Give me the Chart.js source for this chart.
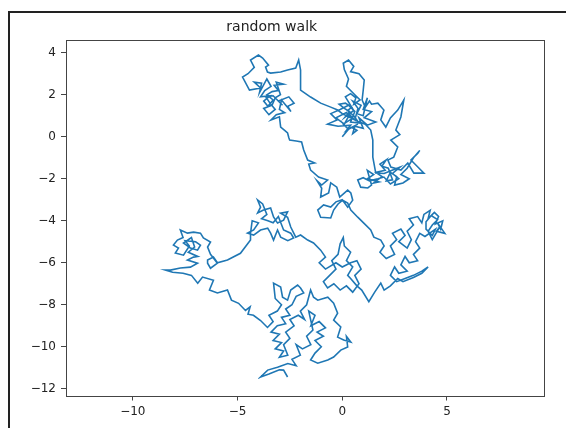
<!DOCTYPE html>
<html>
<head>
<meta charset="utf-8">
<script src="https://cdn.jsdelivr.net/npm/chart.js@4.4.0/dist/chart.umd.min.js"></script>
<style>
  body { margin: 0; background: #fff; overflow: hidden; }
  #wrap { position: relative; width: 566px; height: 428px; }
</style>
</head>
<body>
<div id="wrap"><canvas id="walk"></canvas></div>
<script>
// walk, piece by piece, in drawing order
const walkB = [[0,0],[0.3,0.35],[0.05,0.6],[0.45,0.85],[0.2,1.15],[-0.3,0.9],[0.1,0.6],[0.35,1.05],[0.6,0.8],[0.75,1.35],[0.5,1.7],[0.9,1.5],[0.7,1.1],[1.0,1.0],[1.2,1.85],[1.0,1.3],[1.4,1.2],[1.05,0.9],[1.6,0.7],[1.2,0.55],[0.8,0.9],[1.0,0.4],[0.6,0.5],[0.5,0.15],[0.7,0.3],[0.45,0.45],[0.75,0.6],[0.2,0.3],[0.4,0.55],[-0.2,0.5],[-0.7,0.6],[-0.25,0.8],[-0.55,1.1],[-0.1,1.3],[0.3,1.5],[0.6,1.2],[0.4,0.7],[0.8,0.65],[0.55,1.0],[0.25,1.25],[0.45,1.4],[0.15,1.6],[-0.15,1.55],[0.1,1.35],[0.35,1.2],[0.15,0.95],[0.55,1.25],[0.15,1.9],[0.4,2.05],[0.65,1.85],[0.55,1.55],[0.85,1.75],[0.6,2.0],[0.2,2.4],[0.3,2.75],[0.1,3.2],[0.05,3.5],[0.3,3.65],[0.55,3.35],[0.4,3.1],[0.8,3.0],[1.05,2.7],[1.0,2.2],[0.95,1.75],[1.1,1.4],[1.3,1.7],[1.4,1.55],[1.7,1.6]];
const walkC = [[1.99,1.27],[1.84,0.8],[2.08,0.46],[2.3,0.9],[2.65,1.27],[2.94,1.75],[2.8,0.94],[2.56,0.32],[2.75,0.1],[2.32,-0.16],[2.65,-0.49],[2.46,-0.97],[2.18,-1.11],[2.32,-1.44],[2.8,-1.59],[3.13,-1.25],[3.42,-1.73],[3.9,-1.73],[3.61,-1.44],[3.28,-1.11],[3.61,-0.78],[3.7,-0.65]];
const walkD = [[3.4,-1.0],[3.1,-1.5],[2.8,-1.8],[3.2,-2.0],[2.9,-2.2],[2.5,-2.3],[2.6,-1.9],[2.3,-1.7],[2.1,-2.1],[2.4,-2.05],[2.2,-1.5],[1.9,-1.4],[2.1,-1.1],[1.8,-1.3],[2.05,-1.6],[1.6,-1.7],[1.9,-1.9],[1.5,-2.2],[1.75,-2.15],[1.2,-2.0],[1.5,-1.8],[1.2,-1.6],[1.4,-2.3],[1.22,-2.44],[0.88,-2.4],[0.74,-2.06],[1.0,-1.95],[1.3,-2.1],[1.7,-2.0],[1.99,-1.92],[2.3,-2.25],[2.7,-2.0],[2.4,-1.75],[2.75,-1.45],[2.5,-1.55],[2.0,-1.75],[1.6,-1.73],[1.46,-0.97],[1.46,-0.16],[1.36,0.32],[1.1,0.6],[0.7,0.75],[0.3,0.95],[0.0,1.1],[-0.22,1.27],[-0.55,1.41],[-1.03,1.6],[-1.51,1.89],[-1.99,2.22],[-1.99,2.7],[-1.99,3.18],[-2.08,3.65],[-2.22,3.27],[-2.61,3.18],[-2.94,3.08],[-3.42,3.03]];
const walkA = [[-3.57,3.08],[-3.66,3.32],[-3.52,3.41],[-3.8,3.75],[-4.0,3.89],[-4.38,3.65],[-4.2,3.3],[-4.5,3.0],[-4.76,2.84],[-4.43,2.22],[-3.9,2.32],[-4.2,2.6],[-3.85,2.55],[-3.95,2.1],[-3.6,2.75],[-3.4,2.4],[-3.7,2.2],[-3.9,1.9],[-3.45,1.95],[-3.75,1.7],[-3.55,1.45],[-3.3,1.75],[-3.6,2.0],[-3.35,2.15],[-3.05,2.2],[-3.25,2.45],[-2.8,2.5],[-3.15,2.6],[-2.95,2.0],[-3.2,1.85],[-3.35,1.5],[-3.75,1.35],[-3.5,1.05],[-3.2,1.3],[-3.45,1.6],[-3.65,1.9],[-3.3,1.95],[-2.85,1.5],[-3.05,1.7],[-2.55,1.9],[-2.3,1.6],[-2.6,1.45],[-2.45,1.2],[-2.9,1.75],[-3.0,1.3],[-2.75,1.15],[-3.15,1.05],[-3.4,0.8],[-3.0,0.95],[-2.94,0.46],[-2.75,0.3],[-2.61,0.18],[-2.55,-0.05],[-2.51,-0.16],[-2.2,-0.2],[-1.94,-0.25],[-1.84,-0.63],[-1.65,-1.11],[-1.32,-1.25],[-1.6,-1.3],[-1.51,-1.59],[-1.13,-1.92]];
const walkE = [[-0.7,-2.06],[-0.98,-2.3],[-1.2,-2.1],[-0.98,-2.45],[-1.03,-2.87],[-0.65,-2.68],[-0.55,-2.2],[-0.26,-2.4],[-0.12,-2.87],[0.26,-2.54],[0.41,-2.68],[0.5,-3.02],[0.26,-3.35],[0.0,-3.0],[-0.3,-3.1],[-0.55,-3.35],[-0.89,-3.25],[-1.17,-3.49],[-1.03,-3.83],[-0.55,-3.87],[-0.41,-3.49],[-0.2,-3.2],[0.02,-3.02],[0.26,-3.16],[0.41,-3.49],[0.74,-3.83],[1.03,-4.11],[1.36,-4.44],[1.51,-4.78],[1.84,-4.92]];
const walkF = [[2.0,-5.2],[1.8,-5.5],[2.1,-5.8],[2.5,-5.6],[2.3,-5.2],[2.6,-4.9],[2.4,-4.6],[2.8,-4.4],[3.0,-4.7],[2.7,-5.0],[3.1,-5.3],[3.3,-4.9],[3.1,-4.5],[3.4,-4.2],[3.2,-3.9],[3.6,-3.8],[3.8,-4.1],[3.9,-3.7],[4.2,-3.5],[4.1,-3.9],[4.4,-3.6],[4.6,-3.8],[4.45,-4.15],[4.8,-4.0],[4.7,-4.4],[4.55,-4.1],[4.9,-4.6],[4.5,-4.5],[4.65,-4.3],[4.3,-4.9],[4.1,-4.5],[4.3,-4.2],[4.55,-3.95],[4.25,-3.75],[4.0,-4.05],[4.0,-4.4],[4.3,-4.7],[4.45,-4.4],[3.95,-4.75],[3.7,-4.6],[3.5,-5.0],[3.7,-5.3],[3.4,-5.6],[3.6,-5.9],[3.2,-6.0],[3.0,-5.7],[2.8,-6.1],[3.1,-6.4],[2.7,-6.5],[2.5,-6.2],[2.3,-6.6],[2.6,-6.9],[3.0,-6.75],[3.4,-6.6],[3.8,-6.4],[4.1,-6.2],[3.8,-6.5],[3.4,-6.7],[2.9,-6.9],[2.65,-6.75],[2.3,-7.1],[2.0,-7.3],[1.84,-6.97],[1.55,-7.4],[1.27,-7.85],[0.93,-7.3],[0.7,-7.1],[0.4,-6.75],[0.26,-6.6]];
const walkG = [[0.5,-6.2],[0.2,-5.9],[0.4,-5.5],[0.1,-5.2],[0.05,-4.8],[-0.1,-5.1],[-0.2,-5.6],[-0.5,-5.9],[-0.3,-6.3],[-0.6,-6.6],[-0.9,-6.9],[-0.7,-7.2],[-0.4,-7.0],[-0.1,-7.3],[0.2,-7.1],[0.5,-7.4],[0.8,-7.0],[0.6,-6.6],[0.9,-6.3],[0.7,-5.9],[0.4,-6.0],[0.0,-6.2],[-0.3,-6.0],[-0.8,-6.3],[-1.1,-6.0],[-0.8,-5.73],[-1.03,-5.4],[-1.37,-5.06],[-1.65,-4.92],[-1.99,-4.68],[-2.22,-4.78],[-2.46,-4.3],[-2.61,-3.83],[-2.94,-3.64]];
const walkI = [[-2.61,-3.58],[-2.8,-3.97],[-3.09,-4.11],[-3.28,-3.82],[-3.42,-3.39],[-3.76,-3.49],[-4.04,-3.63],[-3.9,-3.35],[-4.04,-3.01],[-3.8,-3.2],[-3.6,-3.7],[-3.85,-3.9],[-3.55,-4.0],[-3.3,-4.1],[-3.05,-3.8],[-2.8,-4.44],[-2.46,-4.59],[-2.32,-4.82],[-2.6,-4.95],[-2.94,-4.78],[-3.09,-4.44],[-3.28,-4.92],[-3.42,-4.59],[-3.56,-4.35],[-3.9,-4.44],[-4.23,-4.68],[-4.52,-4.59],[-4.23,-4.44],[-4.0,-4.1],[-4.3,-4.0],[-4.38,-4.6],[-4.38,-4.92],[-4.86,-5.55],[-5.48,-5.87],[-5.96,-6.0],[-6.15,-5.73],[-6.43,-5.87],[-6.43,-6.02],[-6.29,-6.26],[-5.96,-6.02],[-6.29,-5.6]];
const walkH = [[-6.43,-5.25],[-6.29,-5.01],[-6.63,-4.82],[-6.77,-4.59],[-7.1,-4.54],[-7.39,-4.59],[-7.73,-4.44],[-7.6,-4.8],[-7.87,-4.92],[-8.06,-5.16],[-7.82,-5.3],[-7.97,-5.54],[-7.58,-5.64],[-7.3,-5.2],[-7.5,-4.95],[-7.0,-5.0],[-6.77,-5.16],[-6.91,-5.4],[-7.25,-5.3],[-7.58,-5.06],[-7.2,-4.8],[-7.05,-5.25],[-7.35,-5.5],[-6.9,-5.7],[-7.1,-5.73],[-7.39,-5.87],[-6.91,-6.02],[-7.25,-6.21],[-7.73,-6.25],[-8.21,-6.35],[-8.44,-6.35],[-8.1,-6.45],[-7.6,-6.5],[-7.2,-6.6],[-6.9,-6.97],[-6.67,-6.68],[-6.15,-6.83],[-6.34,-7.3],[-5.96,-7.44],[-5.48,-7.3],[-5.29,-7.78],[-4.95,-7.93],[-4.62,-8.27],[-4.4,-8.1],[-4.5,-8.45],[-4.24,-8.5],[-3.9,-8.75],[-3.57,-9.08]];
const walkJ = [[-3.3,-8.8],[-3.5,-8.5],[-3.1,-8.3],[-2.9,-8.0],[-3.2,-7.7],[-3.28,-6.97],[-2.94,-7.16],[-2.85,-7.64],[-2.61,-7.78],[-2.46,-7.3],[-2.13,-7.06],[-1.99,-7.2],[-1.84,-7.44],[-2.2,-7.6],[-2.4,-8.0],[-2.7,-8.2],[-2.5,-8.5],[-2.9,-8.6],[-2.7,-8.9],[-3.1,-9.0],[-3.4,-9.3],[-3.0,-9.4],[-3.3,-9.7],[-2.9,-9.8],[-3.2,-10.1],[-2.8,-10.2],[-3.0,-10.5],[-2.6,-10.4],[-2.8,-9.9],[-2.5,-9.6],[-2.7,-9.3],[-2.3,-9.0],[-2.5,-8.7],[-2.1,-8.5],[-1.8,-8.7],[-2.0,-8.3],[-1.7,-8.0],[-1.51,-7.3],[-1.37,-7.64],[-1.17,-7.78],[-0.69,-7.64],[-0.41,-7.92],[-0.22,-8.4],[-0.41,-8.73],[-0.07,-9.06],[-0.22,-9.54],[0.07,-9.68],[0.41,-9.78],[0.2,-9.5],[0.26,-10.01],[-0.07,-10.16],[-0.41,-10.49],[-0.69,-10.63],[-1.17,-10.78],[-1.51,-10.63],[-1.3,-10.3],[-1.0,-10.0],[-1.3,-9.7],[-0.9,-9.5],[-1.2,-9.3],[-0.8,-9.1],[-1.1,-8.8],[-1.5,-9.0],[-1.3,-8.5],[-1.6,-8.3],[-1.4,-9.2],[-1.7,-9.5],[-1.5,-9.9],[-1.9,-10.1],[-2.2,-9.9],[-2.0,-10.4],[-2.4,-10.6],[-2.2,-10.9],[-2.6,-10.8],[-3.09,-10.97],[-3.56,-11.11],[-3.9,-11.44],[-3.5,-11.3],[-3.0,-11.1],[-2.8,-11.11],[-2.61,-11.44]];

const xTicks = [-10, -5, 0, 5];
const yTicks = [-12, -10, -8, -6, -4, -2, 0, 2, 4];
const xRange = [-13.19, 9.61];
const yRange = [-12.32, 4.63];

const points = [].concat(walkB, walkC, walkD, walkA, walkE, walkF, walkG, walkI, walkH, walkJ)
  .map(p => ({ x: p[0], y: p[1] }));

const minus = v => String(v).replace('-', '\u2212');

// axes box plus the dark figure edge on the left and top
const frameBox = {
  id: 'frameBox',
  afterDraw(chart) {
    const a = chart.chartArea, ctx = chart.ctx;
    ctx.save();
    ctx.strokeStyle = '#444';
    ctx.lineWidth = 1;
    ctx.strokeRect(Math.round(a.left) + 0.5, Math.round(a.top) + 0.5,
                   Math.round(a.right - a.left), Math.round(a.bottom - a.top));
    ctx.strokeStyle = '#222';
    ctx.lineWidth = 2;
    ctx.beginPath();
    ctx.moveTo(9, chart.height);
    ctx.lineTo(9, 12);
    ctx.lineTo(chart.width, 12);
    ctx.stroke();
    ctx.restore();
  }
};

new Chart(document.getElementById('walk'), {
  type: 'scatter',
  data: {
    datasets: [{
      data: points,
      showLine: true,
      borderColor: '#1f77b4',
      borderWidth: 1.6,
      pointRadius: 0,
      fill: false,
      tension: 0
    }]
  },
  options: {
    responsive: true,
    maintainAspectRatio: false,
    animation: false,
    layout: { padding: { left: 0, right: 22.5, top: 0, bottom: 0 } },
    plugins: {
      legend: { display: false },
      tooltip: { enabled: false },
      title: {
        display: true,
        text: 'random walk',
        color: '#222',
        font: { family: 'DejaVu Sans', size: 14, weight: 'normal' },
        padding: { top: 18.6, bottom: 4.1 }
      }
    },
    scales: {
      x: {
        type: 'linear',
        min: xRange[0], max: xRange[1],
        afterBuildTicks(s) { s.ticks = xTicks.map(v => ({ value: v })); },
        afterFit(s) { s.height = 32.5; },
        grid: { drawOnChartArea: false, drawTicks: true, tickLength: 5, color: '#444' },
        border: { display: false },
        ticks: { color: '#222', padding: 4, maxRotation: 0, autoSkip: false,
                 font: { family: 'DejaVu Sans', size: 12 }, callback: minus }
      },
      y: {
        type: 'linear',
        min: yRange[0], max: yRange[1],
        afterBuildTicks(s) { s.ticks = yTicks.map(v => ({ value: v })); },
        afterFit(s) { s.width = 66; },
        grid: { drawOnChartArea: false, drawTicks: true, tickLength: 5, color: '#444' },
        border: { display: false },
        ticks: { color: '#222', padding: 5, autoSkip: false,
                 font: { family: 'DejaVu Sans', size: 12 }, callback: minus }
      }
    }
  },
  plugins: [frameBox]
});
</script>
</body>
</html>
